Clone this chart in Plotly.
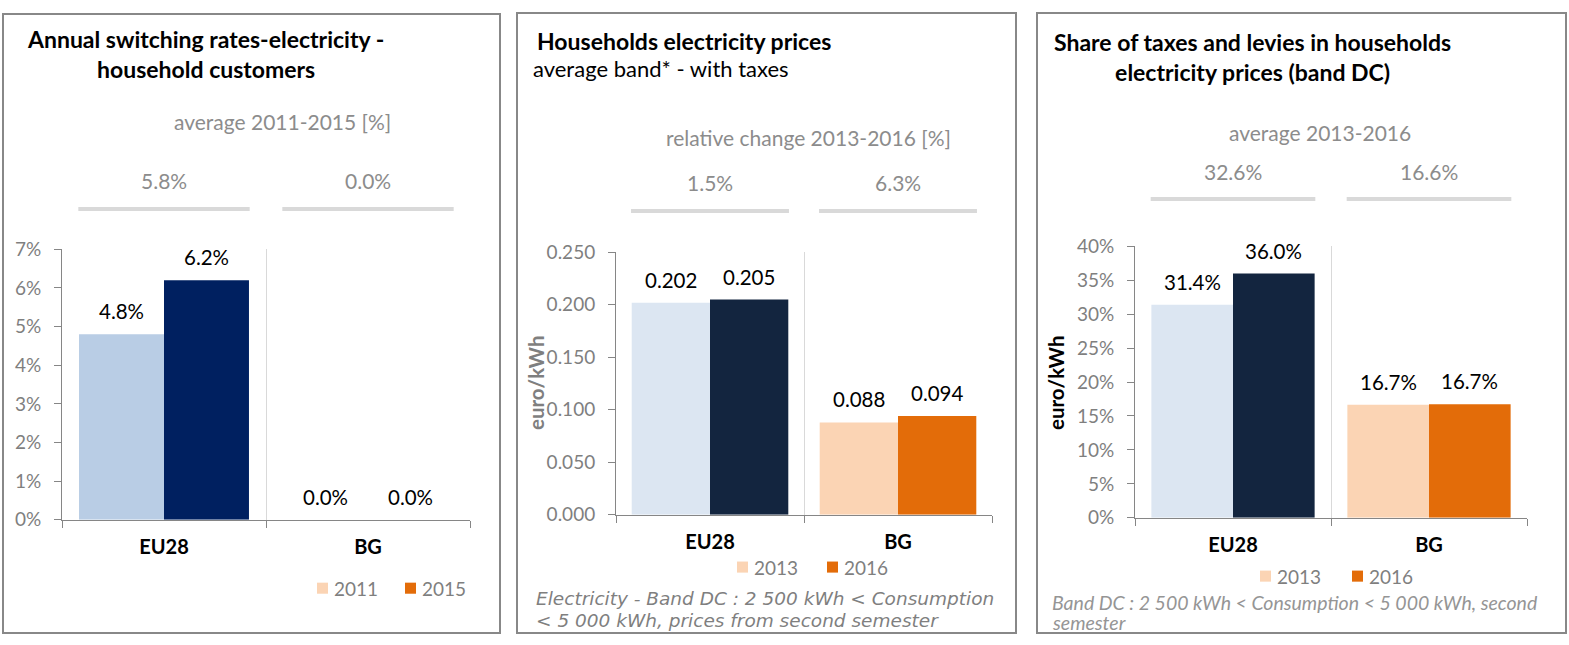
import plotly.graph_objects as go

W, H = 1569, 645

# ---------------- data ----------------
categories = ["EU28", "BG"]

switch_years = ["2011", "2015"]
switch_2011 = [0.048, 0.000]
switch_2015 = [0.062, 0.000]
switch_avg = [0.058, 0.000]

price_years = ["2013", "2016"]
price_2013 = [0.202, 0.088]
price_2016 = [0.205, 0.094]
price_change = [0.015, 0.063]

tax_years = ["2013", "2016"]
tax_2013 = [0.3140, 0.1667]
tax_2016 = [0.3600, 0.1673]
tax_avg = [0.326, 0.166]

titles = [
    "<b>Annual switching rates-electricity -<br>household customers</b>",
    "<b>Households electricity prices</b>",
    "<b>Share of taxes and levies in households<br>electricity prices (band DC)</b>",
]
subtitle2 = "average band* - with taxes"
summary_titles = ["average 2011-2015 [%]", "relative change 2013-2016 [%]", "average 2013-2016"]
footnote2_lines = ["Electricity - Band DC : 2 500 kWh &lt; Consumption",
                   "&lt; 5 000 kWh, prices from second semester"]
footnote3_lines = ["Band DC : 2 500 kWh &lt; Consumption &lt; 5 000 kWh, second",
                   "semester"]
y_title = "euro/kWh"

# ---------------- style ----------------
FONT = "Lato"
GREY_TXT = "#7F7F7F"
SUMM_TXT = "#8C8C8C"
AXIS_C = "#868686"
GRID_C = "#D9D9D9"
EU1_LIGHT, EU1_DARK = "#B9CDE5", "#002060"
EU_LIGHT, EU_DARK = "#DCE6F2", "#13253F"
BG_LIGHT, BG_DARK = "#FBD4B4", "#E36C09"
BARGAP = 0.167

# vertical placement calibration (target picture rows -> page rows)
VA, VS = 14.0, 0.959


def Y(py):
    return min(max((py - VA) / VS, 0.0), H)


def xp(px):
    return px / W


def yp(py):
    return 1 - Y(py) / H


def yraw(py):
    return 1 - py / H


fig = go.Figure()

panels = [
    dict(x0=62, x1=470, ytop=250, ybot=519, yrange=[0, 0.07], dtick=0.01, tickfmt=".0%",
         v1=switch_2011, v2=switch_2015, c1=[EU1_LIGHT, BG_LIGHT], c2=[EU1_DARK, BG_DARK],
         fmt=lambda v: f"{v:.1%}", years=switch_years, summ=[f"{v:.1%}" for v in switch_avg]),
    dict(x0=616, x1=992, ytop=253, ybot=514, yrange=[0, 0.25], dtick=0.05, tickfmt=".3f",
         v1=price_2013, v2=price_2016, c1=[EU_LIGHT, BG_LIGHT], c2=[EU_DARK, BG_DARK],
         fmt=lambda v: f"{v:.3f}", years=price_years, summ=[f"{v:.1%}" for v in price_change]),
    dict(x0=1135, x1=1527, ytop=247, ybot=517, yrange=[0, 0.40], dtick=0.05, tickfmt=".0%",
         v1=tax_2013, v2=tax_2016, c1=[EU_LIGHT, BG_LIGHT], c2=[EU_DARK, BG_DARK],
         fmt=lambda v: f"{v:.1%}", years=tax_years, summ=[f"{v:.1%}" for v in tax_avg]),
]

annotations = []
shapes = []
bw = (1 - BARGAP) / 2

for k, p in enumerate(panels):
    n = "" if k == 0 else str(k + 1)
    xa, ya = "x" + n, "y" + n
    for j, (vals, cols) in enumerate([(p["v1"], p["c1"]), (p["v2"], p["c2"])]):
        fig.add_trace(go.Bar(x=categories, y=vals, marker=dict(color=cols, line=dict(width=0)),
                             xaxis=xa, yaxis=ya, showlegend=False, hoverinfo="skip",
                             offsetgroup=str(j)))
        for i, v in enumerate(vals):
            annotations.append(dict(x=i + (j - 0.5) * bw, y=v, xref=xa, yref=ya, text=p["fmt"](v),
                                    showarrow=False, yanchor="middle", yshift=22 / VS,
                                    font=dict(family=FONT, size=20.5, color="#000000")))
    fig.layout["xaxis" + n] = dict(
        domain=[xp(p["x0"]), xp(p["x1"])], anchor=ya, type="category",
        categoryorder="array", categoryarray=categories, range=[-0.5, 1.5],
        tickson="boundaries", ticks="outside", ticklen=7, tickcolor=AXIS_C,
        showline=True, linecolor=AXIS_C, linewidth=1, showgrid=True, gridcolor=GRID_C,
        gridwidth=1, tickfont=dict(family=FONT, size=20, color="#000000", weight="bold"),
        ticklabelstandoff=9, fixedrange=True)
    fig.layout["yaxis" + n] = dict(
        domain=[yp(p["ybot"]), yp(p["ytop"])], anchor=xa, range=p["yrange"], dtick=p["dtick"],
        tickformat=p["tickfmt"], ticks="outside", ticklen=7, tickcolor=AXIS_C,
        showline=True, linecolor=AXIS_C, linewidth=1, showgrid=False, zeroline=False,
        tickfont=dict(family=FONT, size=19, color=GREY_TXT), ticklabelstandoff=9,
        fixedrange=True)

# summary values & grey lines
summ_y = [182, 184, 173]
line_y = [210, 212, 200]
for k, p in enumerate(panels):
    n = "" if k == 0 else str(k + 1)
    xa = "x" + n
    for i, s in enumerate(p["summ"]):
        annotations.append(dict(x=i, y=yp(summ_y[k]), xref=xa, yref="paper", text=s,
                                showarrow=False, yanchor="middle",
                                font=dict(family=FONT, size=21, color=SUMM_TXT)))
        shapes.append(dict(type="line", xref=xa, yref="paper", x0=i - 0.42, x1=i + 0.42,
                           y0=yp(line_y[k]), y1=yp(line_y[k]),
                           line=dict(color=GRID_C, width=4)))

# summary titles
summ_title_pos = [(282, 123), (808, 139), (1320, 134)]
for (cx, cy), t in zip(summ_title_pos, summary_titles):
    annotations.append(dict(x=xp(cx), y=yp(cy), xref="paper", yref="paper", text=t,
                            showarrow=False, yanchor="middle", xanchor="center",
                            font=dict(family=FONT, size=21, color=SUMM_TXT)))

# titles
annotations.append(dict(x=xp(205), y=yp(56), xref="paper", yref="paper", text=titles[0],
                        showarrow=False, xanchor="center", yanchor="middle", align="center",
                        font=dict(family=FONT, size=23, color="#000000")))
annotations.append(dict(x=xp(535), y=yp(43), xref="paper", yref="paper", text=titles[1],
                        showarrow=False, xanchor="left", yanchor="middle", align="left",
                        font=dict(family=FONT, size=23, color="#000000")))
annotations.append(dict(x=xp(531), y=yp(70), xref="paper", yref="paper", text=subtitle2,
                        showarrow=False, xanchor="left", yanchor="middle", align="left",
                        font=dict(family=FONT, size=22, color="#000000")))
annotations.append(dict(x=xp(1252), y=yp(59), xref="paper", yref="paper", text=titles[2],
                        showarrow=False, xanchor="center", yanchor="middle", align="center",
                        font=dict(family=FONT, size=23, color="#000000")))

# y titles
annotations.append(dict(x=xp(536), y=yp(383), xref="paper", yref="paper", text="<b>" + y_title + "</b>",
                        showarrow=False, textangle=-90, xanchor="center", yanchor="middle",
                        font=dict(family=FONT, size=20.5, color=GREY_TXT)))
annotations.append(dict(x=xp(1056), y=yp(383), xref="paper", yref="paper", text="<b>" + y_title + "</b>",
                        showarrow=False, textangle=-90, xanchor="center", yanchor="middle",
                        font=dict(family=FONT, size=20.5, color="#000000")))

# manual legends (squares + labels)
legend_pos = [(317, 405, 587), (737, 827, 566), (1260, 1352, 575)]
for k, p in enumerate(panels):
    sx1, sx2, ly = legend_pos[k]
    for sx, lab, col in [(sx1, p["years"][0], BG_LIGHT), (sx2, p["years"][1], BG_DARK)]:
        shapes.append(dict(type="rect", xref="paper", yref="paper", x0=xp(sx), x1=xp(sx + 11),
                           y0=yp(ly + 5.5), y1=yp(ly - 5.5), fillcolor=col, line=dict(width=0)))
        annotations.append(dict(x=xp(sx + 15), y=yp(ly), xref="paper", yref="paper", text=lab,
                                showarrow=False, xanchor="left", yanchor="middle",
                                font=dict(family=FONT, size=19, color=GREY_TXT)))

# footnotes (one annotation per line)
for line, ly in zip(footnote2_lines, [597, 619]):
    annotations.append(dict(x=xp(534), y=yp(ly), xref="paper", yref="paper", text="<i>" + line + "</i>",
                            showarrow=False, xanchor="left", yanchor="middle", align="left",
                            font=dict(family="DejaVu Sans", size=18.5, color=GREY_TXT)))
for line, ly in zip(footnote3_lines, [601, 621]):
    annotations.append(dict(x=xp(1050), y=yp(ly), xref="paper", yref="paper", text="<i>" + line + "</i>",
                            showarrow=False, xanchor="left", yanchor="middle", align="left",
                            font=dict(family=FONT, size=19.5, color="#959595")))

# panel borders (kept at the page edges)
for (bx0, by0, bx1, by1) in [(3, 2, 500, 644), (517, 1, 1016, 644), (1037, 1, 1566, 644)]:
    shapes.append(dict(type="rect", xref="paper", yref="paper", x0=xp(bx0), x1=xp(bx1),
                       y0=yraw(by1), y1=yraw(by0), line=dict(color="#888888", width=2),
                       fillcolor="rgba(0,0,0,0)", layer="below"))

fig.update_layout(
    width=W, height=H, margin=dict(l=0, r=0, t=0, b=0),
    paper_bgcolor="white", plot_bgcolor="white",
    barmode="group", bargap=BARGAP, bargroupgap=0,
    annotations=annotations, shapes=shapes, showlegend=False,
    font=dict(family=FONT),
)

fig.write_html("out.html", config={"displayModeBar": False},
               post_script="document.body.style.margin='0';document.body.style.overflow='hidden';")
